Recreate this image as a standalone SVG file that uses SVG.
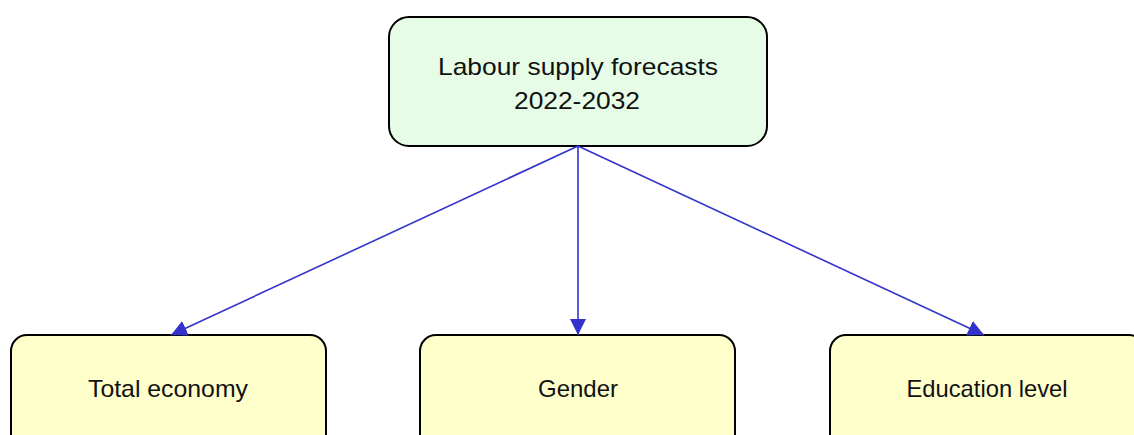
<svg xmlns="http://www.w3.org/2000/svg" width="1134" height="435" viewBox="0 0 1134 435">
<style>
.top{fill:#e6fce6;stroke:#000;stroke-width:2}
.leaf{fill:#ffffcc;stroke:#000;stroke-width:2}
.t{font-family:"Liberation Sans",Arial,sans-serif;font-size:24px;fill:#111;text-anchor:middle}
.c{stroke:#3333cc;stroke-width:1.6;fill:none}
</style>
<defs>
<marker id="ah" viewBox="0 0 10 10" refX="10" refY="5" markerWidth="16" markerHeight="16" markerUnits="userSpaceOnUse" orient="auto">
<path d="M0,0 L10,5 L0,10 z" fill="#3333cc"/>
</marker>
</defs>
<g id="root">
<rect class="top" x="389" y="17" width="378" height="129" rx="20"/>
<text class="t" x="578" y="75" textLength="280" lengthAdjust="spacingAndGlyphs">Labour supply forecasts</text>
<text class="t" x="577" y="109" textLength="126" lengthAdjust="spacingAndGlyphs">2022-2032</text>
</g>
<g id="total">
<rect class="leaf" x="11" y="335" width="315" height="120" rx="16"/>
<text class="t" x="168" y="397" textLength="160" lengthAdjust="spacingAndGlyphs">Total economy</text>
</g>
<g id="gender">
<rect class="leaf" x="420" y="335" width="315" height="120" rx="16"/>
<text class="t" x="578" y="397" textLength="80" lengthAdjust="spacingAndGlyphs">Gender</text>
</g>
<g id="education">
<rect class="leaf" x="830" y="335" width="315" height="120" rx="16"/>
<text class="t" x="987" y="397" textLength="161" lengthAdjust="spacingAndGlyphs">Education level</text>
</g>
<g id="connectors">
<line class="c" x1="578" y1="146" x2="171" y2="335" marker-end="url(#ah)"/>
<line class="c" x1="578" y1="146" x2="578" y2="335" marker-end="url(#ah)"/>
<line class="c" x1="578" y1="146" x2="984" y2="335" marker-end="url(#ah)"/>
</g>
</svg>
